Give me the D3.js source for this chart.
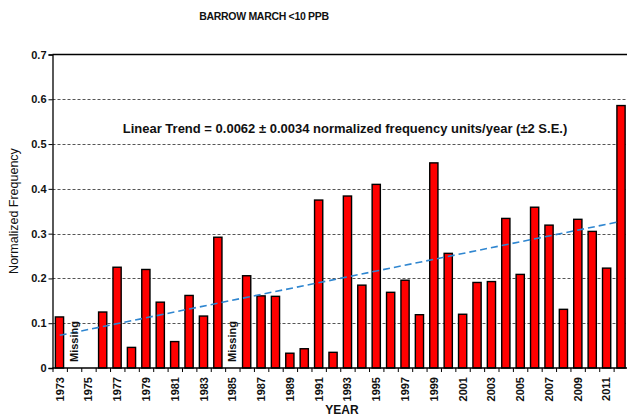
<!DOCTYPE html>
<html><head><meta charset="utf-8">
<script src="https://cdn.jsdelivr.net/npm/d3@7/dist/d3.min.js"></script>
<style>body{margin:0;background:#fff;} svg{display:block;font-family:"Liberation Sans",Arial,sans-serif;}</style>
</head><body>
<svg id="c" width="627" height="418"></svg>
<script>
const years = d3.range(1973, 2013);
// null = missing / no bar
const values = [0.114, null, null, 0.125, 0.225, 0.046, 0.220, 0.147, 0.059, 0.162,
  0.116, 0.292, null, 0.206, 0.161, 0.160, 0.033, 0.043, 0.375, 0.035,
  0.384, 0.185, 0.410, 0.169, 0.196, 0.119, 0.458, 0.256, 0.120, 0.191,
  0.193, 0.334, 0.209, 0.359, 0.319, 0.131, 0.332, 0.305, 0.223, 0.586];
const missingYears = [1974, 1985];
const trendYears = [1973, 2012];
const trendValues = [0.073, 0.326];
const yTicks = [0, 0.1, 0.2, 0.3, 0.4, 0.5, 0.6, 0.7];
const xLabelYears = d3.range(1973, 2012, 2);

const svg = d3.select("#c");
const mLeft = 52.5, mRight = 628, mTop = 54.5, mBottom = 368;
const x = d3.scaleBand().domain(years).range([mLeft, mRight]).paddingInner(0.43).paddingOuter(0.2);
const xb = d3.scaleBand().domain(years).range([mLeft, mRight]);
const y = d3.scaleLinear().domain([0, 0.7]).range([mBottom, mTop]);

// gridlines
svg.append("g").selectAll("line").data(yTicks.filter(d => d > 0 && d < 0.7)).join("line")
  .attr("x1", mLeft).attr("x2", mRight).attr("y1", d => Math.round(y(d)) + 0.5).attr("y2", d => Math.round(y(d)) + 0.5)
  .attr("stroke", "#555").attr("stroke-dasharray", "3,2").attr("stroke-width", 1);
// top border
svg.append("line").attr("x1", mLeft).attr("x2", mRight).attr("y1", mTop).attr("y2", mTop)
  .attr("stroke", "#000").attr("stroke-width", 1.5);

// bars
const data = years.map((yr, i) => ({yr, v: values[i]})).filter(d => d.v != null);
svg.append("g").selectAll("rect").data(data).join("rect")
  .attr("x", d => x(d.yr)).attr("width", x.bandwidth())
  .attr("y", d => y(d.v)).attr("height", d => y(0) - y(d.v))
  .attr("fill", "#ff0000").attr("stroke", "#000").attr("stroke-width", 1.4);

// trend line
svg.append("line")
  .attr("x1", xb(trendYears[0]) + xb.bandwidth() / 2).attr("y1", y(trendValues[0]))
  .attr("x2", xb(trendYears[1]) + xb.bandwidth() / 2 - 3).attr("y2", y(trendValues[1]))
  .attr("stroke", "#2f86d0").attr("stroke-width", 1.6).attr("stroke-dasharray", "7,4");

// y axis
const yAxis = svg.append("g").attr("transform", `translate(${mLeft},0)`)
  .call(d3.axisLeft(y).tickValues(yTicks).tickSize(4).tickFormat(d => d === 0 ? "0" : d3.format(".1f")(d)));
yAxis.select(".domain").attr("stroke", "#000").attr("stroke-width", 1.3);
yAxis.selectAll(".tick line").attr("stroke", "#000");
yAxis.selectAll("text").attr("font-size", 11).attr("font-weight", "bold").attr("fill", "#111")
  .attr("font-family", "Liberation Sans, Arial, sans-serif").attr("x", -6);

// x axis: ticks at category boundaries
const xAxisG = svg.append("g").attr("transform", `translate(0,${mBottom})`);
xAxisG.append("line").attr("x1", mLeft).attr("x2", mRight).attr("stroke", "#000").attr("stroke-width", 1.3);
xAxisG.selectAll("line.t").data(years).join("line").attr("class", "t")
  .attr("x1", d => xb(d) + 0.5).attr("x2", d => xb(d) + 0.5).attr("y1", 0).attr("y2", 4)
  .attr("stroke", "#000");
xAxisG.selectAll("text").data(xLabelYears).join("text")
  .attr("transform", d => `translate(${xb(d) + xb.bandwidth() / 2 + 4},9) rotate(-90)`)
  .attr("text-anchor", "end").attr("font-size", 11).attr("font-weight", "bold").attr("fill", "#111")
  .text(d => d);

// missing labels
svg.append("g").selectAll("text").data(missingYears).join("text")
  .attr("transform", d => `translate(${xb(d) + xb.bandwidth() / 2 + 4},362) rotate(-90)`)
  .attr("text-anchor", "start").attr("font-size", 11).attr("font-weight", "bold").attr("fill", "#111")
  .text("Missing");

// titles
svg.append("text").attr("x", 264).attr("y", 20).attr("text-anchor", "middle")
  .attr("font-size", 10.5).attr("letter-spacing", -0.3).attr("font-weight", "bold").attr("fill", "#111").text("BARROW MARCH <10 PPB");
svg.append("text").attr("x", 345).attr("y", 133).attr("text-anchor", "middle")
  .attr("font-size", 13).attr("font-weight", "bold").attr("fill", "#111")
  .text("Linear Trend = 0.0062 \u00b1 0.0034 normalized frequency units/year (\u00b12 S.E.)");
svg.append("text").attr("x", 342).attr("y", 414).attr("text-anchor", "middle")
  .attr("font-size", 12).attr("font-weight", "bold").attr("fill", "#111").text("YEAR");
svg.append("text").attr("transform", "translate(18,211) rotate(-90)").attr("text-anchor", "middle")
  .attr("font-size", 12.5).attr("fill", "#111").text("Normalized Frequency");
</script>
</body></html>
